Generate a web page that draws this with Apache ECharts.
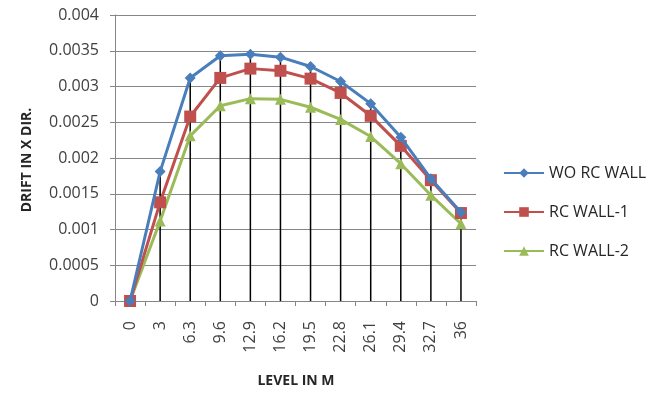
<!DOCTYPE html>
<html>
<head>
<meta charset="utf-8">
<script src="https://cdn.jsdelivr.net/npm/echarts@6/dist/echarts.min.js"></script>
<style>
html,body{margin:0;padding:0;background:#fff;}
#c{width:664px;height:398px;}
</style>
</head>
<body>
<div id="c"></div>
<script>
var levels = ['0','3','6.3','9.6','12.9','16.2','19.5','22.8','26.1','29.4','32.7','36'];
var woRcWall = [0, 0.00181, 0.00312, 0.00343, 0.00345, 0.00341, 0.00328, 0.00307, 0.00276, 0.00229, 0.00171, 0.00124];
var rcWall1  = [0, 0.00138, 0.00258, 0.00312, 0.00325, 0.00322, 0.00311, 0.00291, 0.00259, 0.00217, 0.00169, 0.00123];
var rcWall2  = [0, 0.00112, 0.00231, 0.00273, 0.00283, 0.00282, 0.00271, 0.00254, 0.00230, 0.00192, 0.00148, 0.00108];
var seriesNames = ['WO RC WALL', 'RC WALL-1', 'RC WALL-2'];
var yTicks = ['0','0.0005','0.001','0.0015','0.002','0.0025','0.003','0.0035','0.004'];

var font = '"Open Sans", Lato, sans-serif';
var dropData = levels.map(function (l, i) {
  return [i, Math.max(woRcWall[i], rcWall1[i], rcWall2[i])];
});

var chart = echarts.init(document.getElementById('c'), null, {renderer: 'canvas'});
chart.setOption({
  animation: false,
  backgroundColor: '#ffffff',
  grid: {left: 115, right: 188, top: 15, bottom: 97, containLabel: false},
  legend: {
    orient: 'vertical',
    left: 498, top: 160,
    itemWidth: 40, itemHeight: 12, itemGap: 23,
    data: seriesNames,
    textStyle: {fontFamily: font, fontSize: 16, color: '#262626'}
  },
  xAxis: {
    type: 'category',
    data: levels,
    boundaryGap: true,
    axisLine: {lineStyle: {color: '#868686', width: 1}},
    axisTick: {show: true, length: 5, lineStyle: {color: '#868686'}},
    axisLabel: {rotate: 90, margin: 20, fontFamily: font, fontSize: 16, color: '#404040'},
    splitLine: {show: false}
  },
  yAxis: {
    type: 'value',
    min: 0, max: 0.004, interval: 0.0005,
    axisLine: {show: true, lineStyle: {color: '#868686', width: 1}},
    axisTick: {show: true, length: 5, lineStyle: {color: '#868686'}},
    axisLabel: {
      margin: 16, fontFamily: font, fontSize: 16, color: '#404040',
      formatter: function (v) {
        var idx = Math.round(v / 0.0005);
        return yTicks[idx] !== undefined ? yTicks[idx] : v;
      }
    },
    splitLine: {show: true, lineStyle: {color: '#868686', width: 1}}
  },
  graphic: [
    {type: 'text', x: 296, y: 381,
     style: {text: 'LEVEL IN M', font: 'bold 14px ' + font, fill: '#262626', align: 'center', verticalAlign: 'middle'}},
    {type: 'text', x: 27, y: 160, rotation: Math.PI / 2,
     style: {text: 'DRIFT IN X DIR.', font: 'bold 14px ' + font, fill: '#262626', align: 'center', verticalAlign: 'middle'}}
  ],
  series: [
    {
      type: 'custom',
      name: 'drop',
      z: 1,
      data: dropData,
      encode: {x: 0, y: 1},
      renderItem: function (params, api) {
        var top = api.coord([api.value(0), api.value(1)]);
        var bot = api.coord([api.value(0), 0]);
        return {type: 'line', shape: {x1: top[0], y1: top[1], x2: bot[0], y2: bot[1]},
                style: {stroke: '#000000', lineWidth: 1.5}};
      }
    },
    {
      name: seriesNames[2], type: 'line', data: rcWall2, z: 3,
      symbol: 'triangle', symbolSize: 11,
      lineStyle: {color: '#9BBB59', width: 3},
      itemStyle: {color: '#9BBB59'}
    },
    {
      name: seriesNames[1], type: 'line', data: rcWall1, z: 4,
      symbol: 'rect', symbolSize: 12,
      lineStyle: {color: '#C0504D', width: 3},
      itemStyle: {color: '#C0504D'}
    },
    {
      name: seriesNames[0], type: 'line', data: woRcWall, z: 5,
      symbol: 'diamond', symbolSize: 11,
      lineStyle: {color: '#4A7EBB', width: 3},
      itemStyle: {color: '#4A7EBB'}
    }
  ]
});
</script>
</body>
</html>
